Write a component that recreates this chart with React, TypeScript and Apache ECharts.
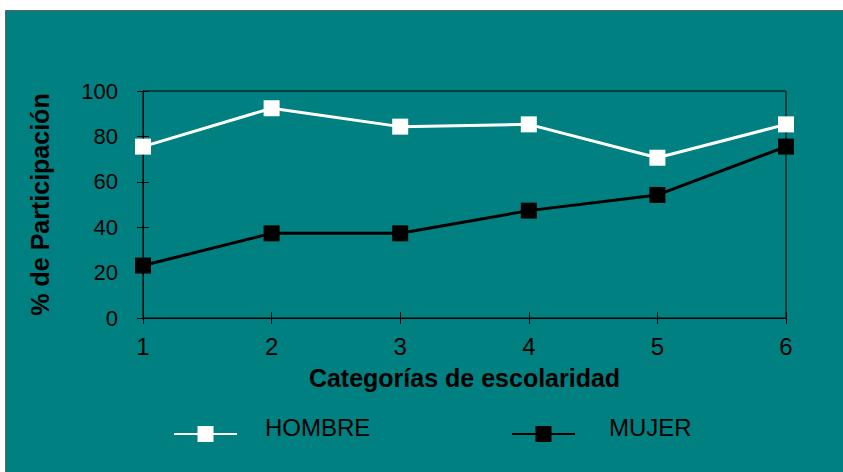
import React, { useEffect, useRef } from "react";
import * as echarts from "echarts";

const categories = ["1", "2", "3", "4", "5", "6"];
const hombre = [75.5, 92.4, 84.3, 85.3, 70.6, 85.3];
const mujer = [23.1, 37.3, 37.3, 47.3, 54.2, 75.5];
const yMin = 0;
const yMax = 100;
const yStep = 20;

const FONT = "'Liberation Sans', Arial, sans-serif";

function legendText(padLeft: number) {
  return {
    color: "#000",
    fontSize: 24,
    fontFamily: FONT,
    rich: {
      n: { color: "#000", fontSize: 24, fontFamily: FONT, lineHeight: 26, padding: [0, 0, 0, padLeft] },
      s: { fontSize: 10, lineHeight: 14 },
    },
  };
}

export default function App() {
  const ref = useRef<HTMLDivElement>(null);
  useEffect(() => {
    if (!ref.current) return;
    const chart = echarts.init(ref.current, null, { renderer: "svg" });
    chart.setOption({
      animation: false,
      backgroundColor: "#ffffff",
      textStyle: { fontFamily: FONT },
      graphic: [
        {
          type: "rect",
          z: -100,
          silent: true,
          shape: { x: 5.5, y: 10.5, width: 900, height: 500 },
          style: { fill: "#008080", stroke: "#5f5f5f", lineWidth: 1 },
        },
      ],
      grid: {
        left: 143,
        right: 57,
        top: 91,
        bottom: 154,
        show: true,
        borderColor: "#000",
        borderWidth: 1,
        backgroundColor: "transparent",
      },
      legend: [
        {
          data: ["HOMBRE"],
          left: 173,
          top: 415,
          padding: 0,
          itemWidth: 63,
          itemHeight: 20,
          formatter: (name: string) => `{n|${name}}\n{s| }`,
          textStyle: legendText(23),
        },
        {
          data: ["MUJER"],
          left: 511,
          top: 415,
          padding: 0,
          itemWidth: 63,
          itemHeight: 20,
          formatter: (name: string) => `{n|${name}}\n{s| }`,
          textStyle: legendText(29),
        },
      ],
      xAxis: [
        {
          type: "category",
          data: categories,
          boundaryGap: false,
          name: "Categorías de escolaridad",
          nameLocation: "middle",
          nameGap: 47,
          nameTextStyle: { color: "#000", fontSize: 25, fontWeight: "bold", fontFamily: FONT },
          axisLine: { show: true, lineStyle: { color: "#000", width: 1 } },
          axisTick: { show: true, length: 6, lineStyle: { color: "#000" } },
          axisLabel: { color: "#000", fontSize: 24, margin: 16, fontFamily: FONT },
          splitLine: { show: false },
        },
        {
          type: "category",
          data: categories,
          boundaryGap: false,
          position: "bottom",
          axisLine: { show: false },
          axisTick: { show: true, inside: true, length: 6, lineStyle: { color: "#000" } },
          axisLabel: { show: false },
          splitLine: { show: false },
        },
      ],
      yAxis: [
        {
          type: "value",
          min: yMin,
          max: yMax,
          interval: yStep,
          name: "% de Participación",
          nameLocation: "middle",
          nameGap: 91,
          nameTextStyle: { color: "#000", fontSize: 25, fontWeight: "bold", fontFamily: FONT },
          axisLine: { show: true, lineStyle: { color: "#000", width: 1 } },
          axisTick: { show: true, length: 6, lineStyle: { color: "#000" } },
          axisLabel: { color: "#000", fontSize: 22, margin: 25, fontFamily: FONT },
          splitLine: { show: false },
        },
        {
          type: "value",
          min: yMin,
          max: yMax,
          interval: yStep,
          position: "left",
          axisLine: { show: false },
          axisTick: { show: true, inside: true, length: 6, lineStyle: { color: "#000" } },
          axisLabel: { show: false },
          splitLine: { show: false },
        },
      ],
      series: [
        {
          name: "HOMBRE",
          type: "line",
          data: hombre,
          symbol: "rect",
          symbolSize: 16,
          lineStyle: { color: "#ffffff", width: 3 },
          itemStyle: { color: "#ffffff" },
          z: 5,
        },
        {
          name: "MUJER",
          type: "line",
          data: mujer,
          symbol: "rect",
          symbolSize: 16,
          lineStyle: { color: "#000000", width: 3 },
          itemStyle: { color: "#000000" },
          z: 5,
        },
      ],
    });
    return () => chart.dispose();
  }, []);
  return (
    <div
      ref={ref}
      style={{ position: "absolute", left: 0, top: 0, width: 843, height: 472 }}
    />
  );
}
